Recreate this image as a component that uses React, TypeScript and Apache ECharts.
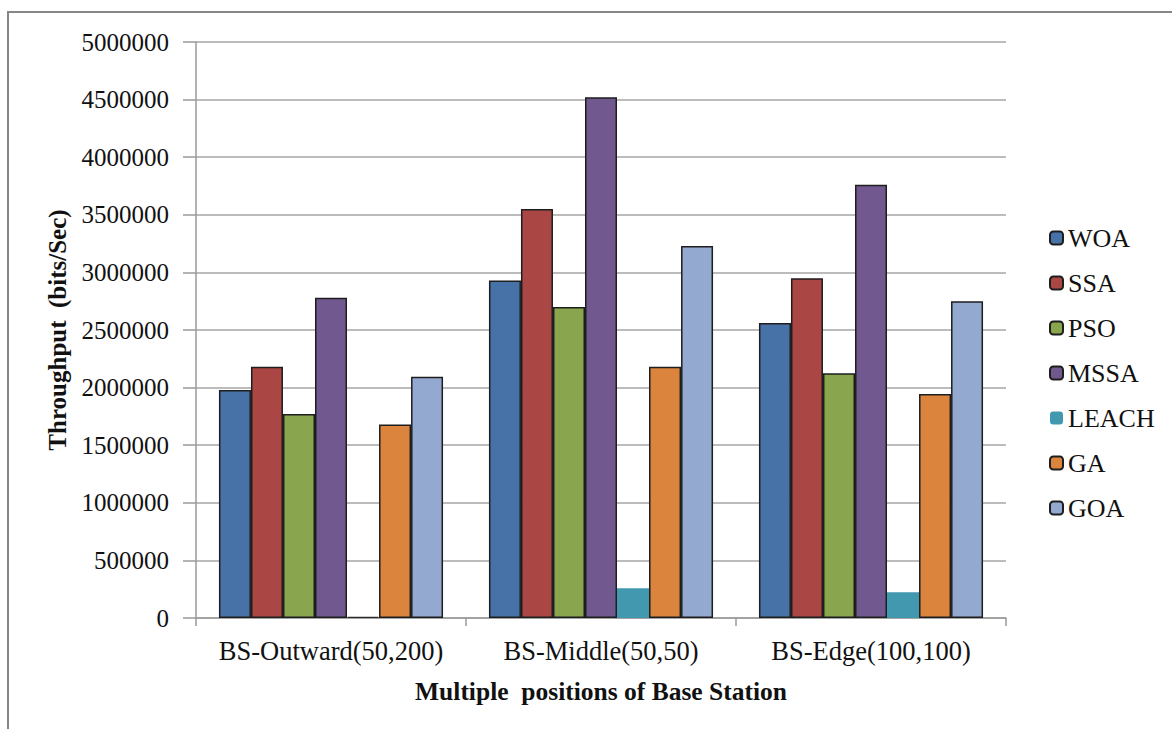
import React, { useEffect, useRef } from "react";
import * as echarts from "echarts";

const categories = ["BS-Outward(50,200)", "BS-Middle(50,50)", "BS-Edge(100,100)"];
const seriesNames = ["WOA", "SSA", "PSO", "MSSA", "LEACH", "GA", "GOA"];
const colors = ["#4672A8", "#AA4643", "#89A54E", "#71588F", "#4198AF", "#DB843D", "#93A9CF"];
const woa = [1980000, 2930000, 2560000];
const ssa = [2180000, 3550000, 2950000];
const pso = [1770000, 2700000, 2125000];
const mssa = [2780000, 4520000, 3760000];
const leach = [10000, 258000, 223000];
const ga = [1680000, 2180000, 1945000];
const goa = [2095000, 3230000, 2750000];
const allValues = [woa, ssa, pso, mssa, leach, ga, goa];
const yTicks = { min: 0, max: 5000000, interval: 500000 };

const FONT = "Liberation Serif, serif";

export default function App() {
  const ref = useRef<HTMLDivElement>(null);
  useEffect(() => {
    const chart = echarts.init(ref.current!, null, { renderer: "svg" });
    chart.setOption({
      animation: false,
      backgroundColor: "#fff",
      textStyle: { fontFamily: FONT },
      graphic: [
        {
          type: "rect",
          shape: { x: 8, y: 12, width: 1300, height: 900 },
          style: { fill: "none", stroke: "#868686", lineWidth: 2 },
          silent: true,
        },
      ],
      grid: { left: 196, top: 42, width: 810, height: 576 },
      legend: {
        orient: "vertical",
        left: 1044,
        top: 220,
        itemWidth: 13,
        itemHeight: 13,
        itemGap: 19,
        textStyle: { fontFamily: FONT, fontSize: 26, color: "#111", lineHeight: 25 },
        data: seriesNames,
      },
      xAxis: {
        type: "category",
        data: categories,
        axisLine: { lineStyle: { color: "#9A9A9A", width: 1.5 } },
        axisTick: { show: true, length: 8, lineStyle: { color: "#9A9A9A", width: 1.5 } },
        axisLabel: { fontFamily: FONT, fontSize: 26.5, color: "#111", margin: 19, interval: 0 },
        name: "Multiple  positions of Base Station",
        nameLocation: "middle",
        nameGap: 60,
        nameTextStyle: { fontFamily: FONT, fontSize: 25.5, fontWeight: "bold", color: "#111" },
      },
      yAxis: {
        type: "value",
        min: yTicks.min,
        max: yTicks.max,
        interval: yTicks.interval,
        axisLine: { show: true, lineStyle: { color: "#9A9A9A", width: 1.5 } },
        axisTick: { show: true, length: 13, lineStyle: { color: "#9A9A9A", width: 1.5 } },
        splitLine: { lineStyle: { color: "#A6A6A6", width: 1.5 } },
        axisLabel: {
          fontFamily: FONT,
          fontSize: 25,
          color: "#111",
          margin: 27,
          formatter: (v: number) => String(v),
        },
        name: "Throughput  (bits/Sec)",
        nameLocation: "middle",
        nameGap: 126,
        nameTextStyle: { fontFamily: FONT, fontSize: 25, fontWeight: "bold", color: "#111" },
      },
      series: seriesNames.map((name, i) => ({
        name,
        type: "bar",
        data: allValues[i].map((v, j) =>
          name === "LEACH" && j === 0
            ? { value: v, itemStyle: { borderColor: "#2A2A2A", borderWidth: 1.2 } }
            : v
        ),
        barGap: "0%",
        barCategoryGap: "17%",
        itemStyle: {
          color: colors[i],
          borderColor: name === "LEACH" ? colors[i] : "#1E1E1E",
          borderWidth: name === "LEACH" ? 0 : 1.5,
        },
      })),
    });
    return () => chart.dispose();
  }, []);
  return (
    <div
      ref={ref}
      style={{ position: "fixed", left: 0, top: 0, width: 1172, height: 729 }}
    />
  );
}
